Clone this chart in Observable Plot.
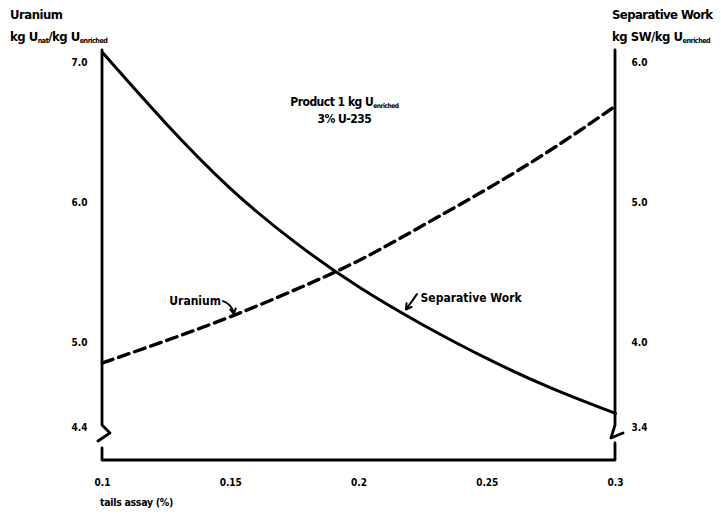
<!DOCTYPE html>
<html><head><meta charset="utf-8">
<script src="https://cdn.jsdelivr.net/npm/d3@7"></script>
<script src="https://cdn.jsdelivr.net/npm/@observablehq/plot@0.6"></script>
<style>
html,body{margin:0;padding:0;background:#fff;}
#chart svg{display:block;}
</style></head><body><div id="chart"></div>
<script>
// ---- data ----
const tails   = [0.1, 0.125, 0.15, 0.175, 0.2, 0.225, 0.25, 0.275, 0.3];      // tails assay (%)
const uranium = [4.86, 5.02, 5.19, 5.38, 5.59, 5.84, 6.10, 6.38, 6.69];      // kg Unat / kg Uenriched (left axis)
const sepWork = [6.07, 5.56, 5.10, 4.72, 4.40, 4.13, 3.89, 3.68, 3.50];      // kg SW / kg Uenriched (right axis)
const xTicks = [0.1, 0.15, 0.2, 0.25, 0.3];
const xTickLabels = ["0.1", "0.15", "0.2", "0.25", "0.3"];
const uTicks  = [4.4, 5.0, 6.0, 7.0];
const swTicks = [3.4, 4.0, 5.0, 6.0];
const uraniumLabel = [{x: 0.1462, y: 5.30, text: "Uranium"}];
const swLabel = [{x: 0.2240, y: 5.32, text: "Separative Work"}];
const uraniumArrow = [{x1: 0.1470, y1: 5.30, x2: 0.1512, y2: 5.21}];
const swArrow = [{x1: 0.2226, y1: 5.35, x2: 0.2183, y2: 5.24}];
const productNote = {x: 0.1945, y1: 6.715, y2: 6.594};

const FONT = "'Liberation Sans Narrow','DejaVu Sans Condensed','Arial Narrow',sans-serif";
const swOffset = uTicks[0] - swTicks[0];
const rows = tails.map((t, i) => ({t, u: uranium[i], sw: sepWork[i] + swOffset}));

function rich(g, x, y, parts, anchor, size) {
  const t = g.append("text").attr("x", x).attr("y", y).attr("text-anchor", anchor || "start")
    .attr("font-size", size);
  let shifted = false;
  for (const [s, sub] of parts) {
    const ts = t.append("tspan").text(s);
    if (sub && !shifted) { ts.attr("font-size", size * 0.55).attr("dy", 2); shifted = true; }
    else if (!sub && shifted) { ts.attr("dy", -2); shifted = false; }
    else if (sub) ts.attr("font-size", size * 0.55);
  }
  return t;
}

function decorations(index, scales, values, dim) {
  const x = scales.x, y = scales.y;
  const g = d3.create("svg:g").attr("font-family", FONT).attr("font-weight", "bold").attr("fill", "black");
  const xl = x(xTicks[0]), xr = x(xTicks[xTicks.length - 1]);
  const yTop = dim.marginTop, yBot = dim.height - dim.marginBottom;
  const yb = y(uTicks[0]);
  const path = d3.path();
  // left axis with break
  path.moveTo(xl, yTop); path.lineTo(xl, yb - 2); path.lineTo(xl + 8, yb + 6); path.lineTo(xl - 4, yb + 14);
  path.moveTo(xl, yb + 21); path.lineTo(xl, yBot); path.lineTo(xr, yBot); path.lineTo(xr, yb + 16);
  // right axis with break
  path.moveTo(xr, yTop); path.lineTo(xr, yb - 2); path.lineTo(xr - 4, yb + 11); path.lineTo(xr + 8, yb + 6);
  g.append("path").attr("d", path.toString()).attr("fill", "none").attr("stroke", "black")
    .attr("stroke-width", 2.8).attr("stroke-linejoin", "round").attr("stroke-linecap", "round");
  // axis titles
  rich(g, xl - 92, 19, [["Uranium", false]], "start", 13).attr("letter-spacing", -0.5);
  rich(g, xl - 92, 41, [["kg U", false], ["nat", true], ["/kg U", false], ["enriched", true]], "start", 13).attr("letter-spacing", -0.5);
  rich(g, xr - 3, 19, [["Separative Work", false]], "start", 13).attr("letter-spacing", -0.6);
  rich(g, xr - 3, 41, [["kg SW/kg U", false], ["enriched", true]], "start", 13).attr("letter-spacing", -0.5);
  // product note
  rich(g, x(productNote.x), y(productNote.y1) + 4, [["Product 1 kg U", false], ["enriched", true]], "middle", 12).attr("letter-spacing", -0.5);
  rich(g, x(productNote.x), y(productNote.y2) + 4, [["3% U-235", false]], "middle", 12).attr("letter-spacing", -0.5);
  // x axis label
  rich(g, xl - 2, yBot + 46, [["tails assay (%)", false]], "start", 10.5).attr("letter-spacing", -0.3);
  return g.node();
}

const chart = Plot.plot({
  width: 721,
  height: 516,
  marginLeft: 102,
  marginRight: 106,
  marginTop: 50,
  marginBottom: 56,
  style: {fontFamily: FONT, background: "white", color: "black"},
  x: {domain: [xTicks[0], xTicks[xTicks.length - 1]]},
  y: {domain: [4.165, 7.085]},
  marks: [
    decorations,
    Plot.line(rows, {x: "t", y: "u", stroke: "black", strokeWidth: 3.4, strokeDasharray: "11,6", curve: "natural"}),
    Plot.line(rows, {x: "t", y: "sw", stroke: "black", strokeWidth: 3, curve: "natural"}),
    Plot.axisX(xTicks, {anchor: "bottom", tickSize: 0, tickPadding: 18, label: null,
      tickFormat: d => xTickLabels[xTicks.indexOf(d)], fontSize: 10, fontWeight: "bold"}),
    Plot.axisY(uTicks, {anchor: "left", tickSize: 0, tickPadding: 15, label: null,
      tickFormat: d => d.toFixed(1), fontSize: 10, fontWeight: "bold"}),
    Plot.axisY(uTicks, {anchor: "right", tickSize: 0, tickPadding: 16, label: null,
      tickFormat: d => swTicks[uTicks.indexOf(d)].toFixed(1), fontSize: 10, fontWeight: "bold"}),
    Plot.text(uraniumLabel, {x: "x", y: "y", text: "text", textAnchor: "end", fontSize: 12,
      fontWeight: "bold", fill: "black", letterSpacing: -0.5}),
    Plot.text(swLabel, {x: "x", y: "y", text: "text", textAnchor: "start", fontSize: 12,
      fontWeight: "bold", fill: "black", letterSpacing: -0.6}),
    Plot.arrow(uraniumArrow, {x1: "x1", y1: "y1", x2: "x2", y2: "y2", bend: 30, stroke: "black", strokeWidth: 2, headLength: 5}),
    Plot.arrow(swArrow, {x1: "x1", y1: "y1", x2: "x2", y2: "y2", stroke: "black", strokeWidth: 2, headLength: 5})
  ]
});
document.getElementById("chart").appendChild(chart);
</script>
</body></html>
